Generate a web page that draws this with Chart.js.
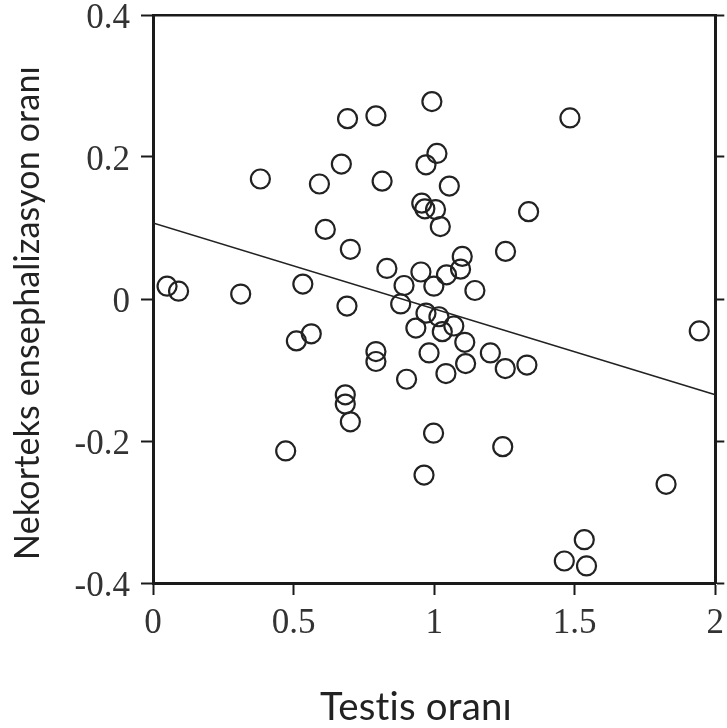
<!DOCTYPE html>
<html>
<head>
<meta charset="utf-8">
<script src="https://cdn.jsdelivr.net/npm/chart.js@4"></script>
<style>
  html, body { margin: 0; padding: 0; background: #fff; }
  #chart { display: block; }
</style>
</head>
<body>
<canvas id="chart" width="727" height="728"></canvas>
<script>
const testisRatio = [
  0.050, 0.091, 0.312, 0.382, 0.592, 0.613, 0.670, 0.692, 0.793, 0.815,
  0.702, 0.992, 1.483, 1.010, 0.971, 1.054, 0.956, 0.967, 1.005, 1.022,
  1.336, 1.254, 1.100, 1.094, 1.044, 0.953, 0.832, 0.893, 0.999, 1.145,
  0.533, 0.690, 0.881, 0.510, 0.563, 0.793, 0.793, 0.935, 0.971, 1.017,
  1.070, 1.029, 0.982, 1.109, 1.112, 1.042, 1.200, 1.253, 1.330, 0.902,
  0.684, 0.684, 0.702, 0.472, 0.998, 1.244, 0.964, 1.943, 1.825, 1.534,
  1.463, 1.542
];
const neocortexRatio = [
  0.018, 0.011, 0.007, 0.169, 0.162, 0.098, 0.190, 0.254, 0.258, 0.166,
  0.070, 0.278, 0.255, 0.205, 0.189, 0.159, 0.135, 0.127, 0.126, 0.102,
  0.123, 0.067, 0.060, 0.042, 0.034, 0.038, 0.043, 0.019, 0.018, 0.012,
  0.021, -0.010, -0.007, -0.059, -0.049, -0.074, -0.088, -0.041, -0.020, -0.025,
  -0.038, -0.046, -0.076, -0.061, -0.091, -0.105, -0.076, -0.098, -0.093, -0.113,
  -0.135, -0.148, -0.173, -0.214, -0.189, -0.208, -0.248, -0.045, -0.261, -0.339,
  -0.369, -0.376
];
const fitIntercept = 0.107;
const fitSlope = -0.121;
const xTicks = [0, 0.5, 1, 1.5, 2];
const yTicks = [0.4, 0.2, 0, -0.2, -0.4];
const xTitle = "Testis oranı";
const yTitle = "Nekorteks ensephalizasyon oranı";

const points = testisRatio.map((x, i) => ({ x, y: neocortexRatio[i] }));
const fitLine = [0, 2].map(x => ({ x, y: fitIntercept + fitSlope * x }));

const tickFont = { family: "'Liberation Serif', 'Times New Roman', serif", size: 35 };
const axisColor = "#1a1a1a";

function fixedTicks(values) {
  return scale => { scale.ticks = values.map(value => ({ value })); };
}

// pin each axis box to a fixed size and drop the label overhang padding
function boxSize(prop, size) {
  return s => {
    s[prop] = size;
    s.paddingTop = s.paddingBottom = s.paddingLeft = s.paddingRight = 0;
  };
}

function fitFont(ctx, text, family, width) {
  ctx.font = `40px ${family}`;
  const size = 40 * width / ctx.measureText(text).width;
  ctx.font = `${size}px ${family}`;
}

const axisTitles = {
  id: "axisTitles",
  afterDraw(chart) {
    const ctx = chart.ctx;
    ctx.save();
    ctx.fillStyle = "#222";
    ctx.textAlign = "center";
    ctx.textBaseline = "alphabetic";
    if ("letterSpacing" in ctx) ctx.letterSpacing = "0.2px"; // keeps "ti" from joining
    fitFont(ctx, xTitle, "Lato", 192);
    ctx.fillText(xTitle, 416, 720);
    fitFont(ctx, yTitle, "Lato", 493);
    ctx.translate(39, 313);
    ctx.rotate(-Math.PI / 2);
    ctx.fillText(yTitle, 0, 0);
    ctx.restore();
  }
};

new Chart(document.getElementById("chart"), {
  type: "scatter",
  data: {
    datasets: [
      {
        type: "line",
        data: fitLine,
        borderColor: "#222",
        borderWidth: 1.6,
        pointRadius: 0,
        fill: false,
        order: 2
      },
      {
        data: points,
        pointStyle: "circle",
        pointRadius: 9.5,
        pointBorderWidth: 2.2,
        pointBorderColor: "#222",
        pointBackgroundColor: "rgba(0,0,0,0)",
        order: 1
      }
    ]
  },
  options: {
    responsive: false,
    animation: false,
    layout: { padding: 0 },
    plugins: { legend: { display: false }, tooltip: { enabled: false } },
    scales: {
      x: {
        type: "linear",
        position: "bottom",
        min: 0,
        max: 2,
        afterBuildTicks: fixedTicks(xTicks),
        afterFit: boxSize("height", 145),
        ticks: { font: tickFont, color: "#333", padding: 8, callback: v => String(v) },
        grid: { drawOnChartArea: false, tickLength: 12, tickColor: axisColor, tickWidth: 2 },
        border: { color: axisColor, width: 3 }
      },
      xTop: {
        type: "linear",
        position: "top",
        min: 0,
        max: 2,
        afterFit: boxSize("height", 15),
        ticks: { display: false },
        grid: { display: false },
        border: { display: true, color: axisColor, width: 2.5 }
      },
      y: {
        type: "linear",
        position: "left",
        min: -0.4,
        max: 0.4,
        afterBuildTicks: fixedTicks(yTicks),
        afterFit: boxSize("width", 153),
        ticks: { font: tickFont, color: "#333", padding: 11, labelOffset: 4, callback: v => String(v) },
        grid: { drawOnChartArea: false, tickLength: 12, tickColor: axisColor, tickWidth: 2 },
        border: { color: axisColor, width: 3 }
      },
      yRight: {
        type: "linear",
        position: "right",
        min: -0.4,
        max: 0.4,
        afterBuildTicks: fixedTicks(yTicks),
        afterFit: boxSize("width", 9),
        ticks: { display: false },
        grid: { drawOnChartArea: false, tickLength: 9, tickColor: axisColor, tickWidth: 2 },
        border: { color: axisColor, width: 3 }
      }
    }
  },
  plugins: [axisTitles]
});
</script>
</body>
</html>
